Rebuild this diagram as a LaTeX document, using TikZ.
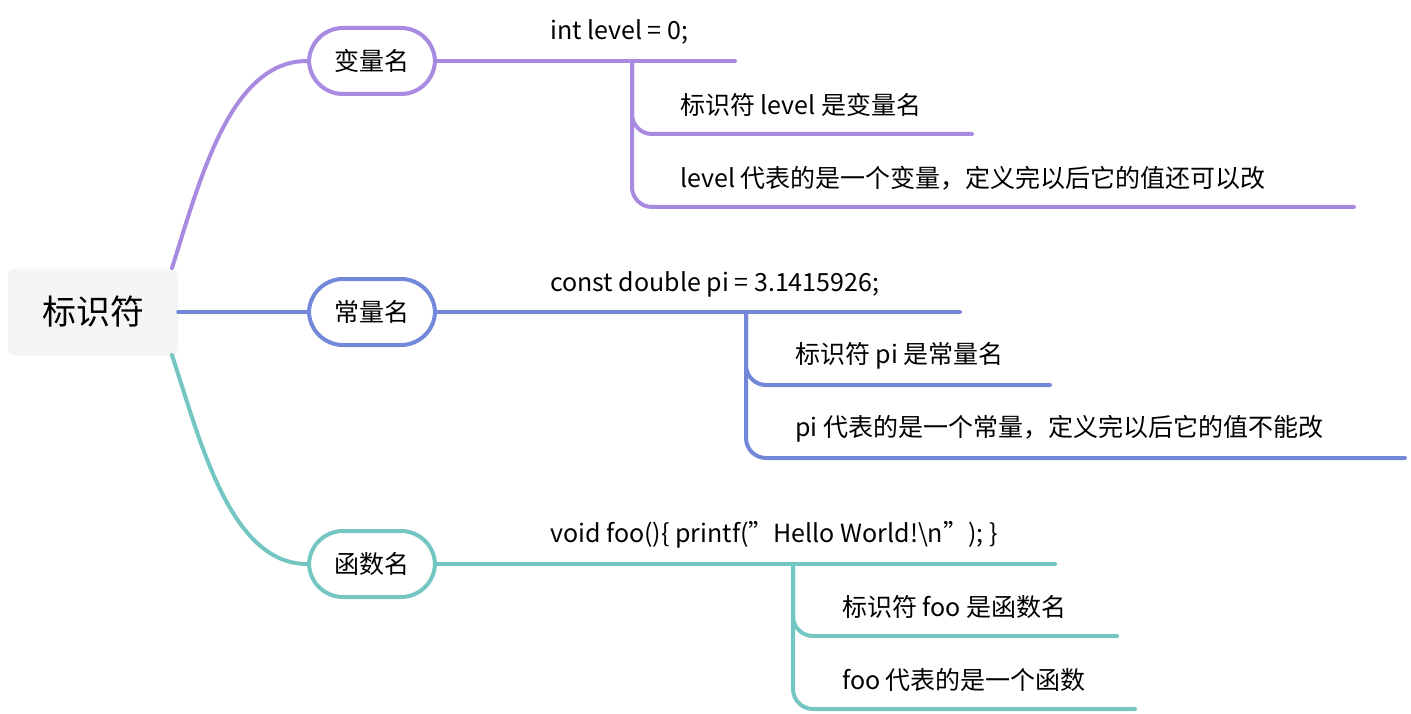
\documentclass[tikz,border=0pt]{standalone}
\usepackage{fontspec}
\setmainfont{Noto Sans CJK SC}
\definecolor{cp}{HTML}{A88BE0}
\definecolor{cb}{HTML}{7388D9}
\definecolor{ct}{HTML}{74C6C3}
\definecolor{rootbg}{HTML}{F5F5F5}
\begin{document}
\begin{tikzpicture}[x=1pt,y=-1pt,
  br/.style={draw=#1,line width=4pt,rounded corners=34pt,minimum width=126pt,minimum height=66pt,font=\fontsize{25}{25}\selectfont,fill=white},
  ln/.style={draw=#1,line width=4pt,line cap=round,rounded corners=20pt},
  tx/.style={anchor=west,font=\fontsize{25}{25}\selectfont,inner sep=0pt}]
\useasboundingbox (0,0) rectangle (1411,714);
\node[fill=rootbg,rounded corners=6pt,minimum width=170pt,minimum height=87pt,font=\fontsize{34}{34}\selectfont] (root) at (93,312) {标识符};
\node[br=cp] (v) at (372,61) {变量名};
\node[br=cb] (c) at (372,312) {常量名};
\node[br=ct] (f) at (372,564) {函数名};
\draw[ln=cp] (172,268) .. controls (200,180) and (230,61) .. (v.west);
\draw[ln=cb] (root.east) -- (c.west);
\draw[ln=ct] (172,355) .. controls (200,440) and (230,564) .. (f.west);
% texts
\node[tx] (v0) at (550,32) {int level = 0;};
\node[tx] (v1) at (680,105) {标识符 level 是变量名};
\node[tx] (v2) at (680,178) {level 代表的是一个变量，定义完以后它的值还可以改};
\node[tx] (c0) at (550,284) {const double pi = 3.1415926;};
\node[tx] (c1) at (795,356) {标识符 pi 是常量名};
\node[tx] (c2) at (795,429) {pi 代表的是一个常量，定义完以后它的值不能改};
\node[tx] (f0) at (550,535) {void foo()\{ printf(\symbol{34}Hello World!\textbackslash n\symbol{34}); \}};
\node[tx] (f1) at (842,607) {标识符 foo 是函数名};
\node[tx] (f2) at (842,680) {foo 代表的是一个函数};
\coordinate (ve) at (735,61); \coordinate (ce) at (960,312); \coordinate (fe) at (1055,564);
\draw[ln=cp] (v.east) -- (ve);
\draw[ln=cb] (c.east) -- (ce);
\draw[ln=ct] (f.east) -- (fe);
\draw[ln=cp] (632,61) |- (972,134);
\draw[ln=cp] (632,61) |- (1354,207);
\draw[ln=cb] (746,312) |- (1050,385);
\draw[ln=cb] (746,312) |- (1405,458);
\draw[ln=ct] (793,564) |- (1117,636);
\draw[ln=ct] (793,564) |- (1135,709);
\end{tikzpicture}
\end{document}
